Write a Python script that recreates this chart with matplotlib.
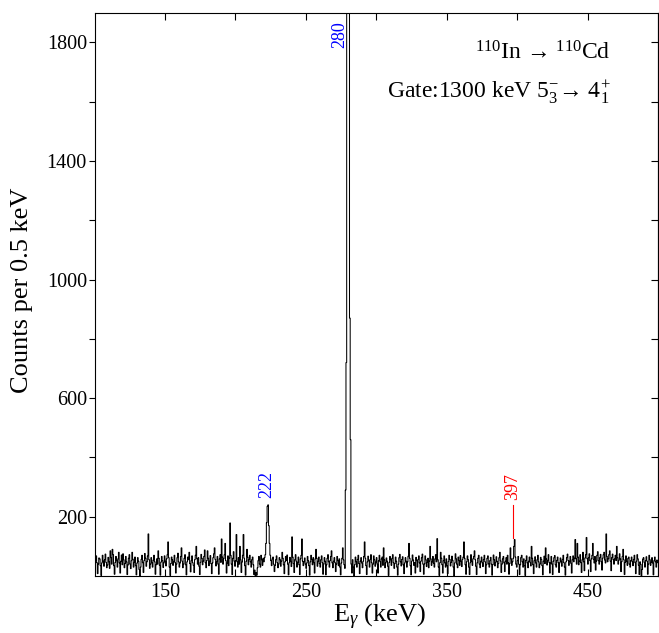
import numpy as np
import matplotlib
matplotlib.use('Agg')
import matplotlib.pyplot as plt
from matplotlib.ticker import FixedLocator

plt.rcParams['font.family'] = ['Liberation Serif', 'DejaVu Serif']
plt.rcParams['mathtext.fontset'] = 'custom'
plt.rcParams['mathtext.rm'] = 'Liberation Serif'
plt.rcParams['mathtext.it'] = 'Liberation Serif:italic'
plt.rcParams['mathtext.bf'] = 'Liberation Serif:bold'

# gated spectrum, 0.5 keV bins from 100 to 500 keV (one row = 10 keV)
e_start = 100.0
bin_width = 0.5
counts = [
    [30, 52, 68, 45, 8, 40, 61, 58, 35, 2, 44, 70, 50, 33, 55, 74, 46, 28, 37, 63],
    [48, 26, 85, 62, 40, 90, 72, 35, 6, 46, 66, 52, 30, 58, 80, 44, 10, 50, 71, 38],
    [75, 55, 28, 42, 66, 48, 5, 37, 60, 72, 40, 25, 52, 80, 57, 30, 46, 64, 35, 4],
    [44, 62, 50, 22, 0, 30, 56, 70, 45, 12, 52, 76, 60, 33, 48, 68, 142, 55, 26, 40],
    [62, 45, 30, 54, 70, 48, 6, 38, 58, 40, 85, 60, 36, 3, 47, 66, 52, 29, 44, 68],
    [50, 34, 58, 72, 115, 62, 30, 2, 42, 64, 55, 36, 49, 70, 45, 10, 40, 62, 77, 48],
    [30, 44, 66, 95, 50, 28, 40, 60, 72, 38, 4, 48, 64, 55, 80, 42, 14, 52, 68, 45],
    [36, 12, 55, 70, 100, 58, 40, 62, 33, 5, 46, 73, 60, 38, 50, 66, 88, 45, 28, 52],
    [85, 60, 35, 50, 69, 42, 8, 44, 62, 75, 95, 56, 34, 48, 66, 40, 6, 58, 72, 46],
    [125, 64, 40, 58, 72, 110, 52, 10, 44, 68, 35, 60, 179, 70, 40, 5, 60, 82, 50, 33],
    [52, 140, 48, 30, 62, 40, 100, 55, 12, 47, 70, 140, 60, 35, 3, 50, 90, 64, 38, 56],
    [70, 48, 30, 55, 64, 38, 5, 20, 0, 12, 3, 28, 52, 66, 40, 30, 70, 55, 36, 60],
    [48, 62, 72, 110, 180, 235, 240, 170, 110, 70, 52, 35, 58, 64, 40, 15, 36, 55, 68, 45],
    [28, 40, 62, 55, 33, 50, 80, 60, 38, 8, 48, 66, 52, 71, 40, 4, 45, 63, 50, 32],
    [132, 64, 42, 12, 55, 72, 50, 30, 46, 64, 38, 5, 58, 70, 125, 50, 35, 48, 61, 40],
    [26, 44, 66, 52, 35, 3, 48, 70, 56, 38, 62, 45, 10, 58, 90, 60, 33, 50, 64, 42],
    [30, 55, 68, 45, 6, 40, 62, 50, 4, 38, 60, 72, 48, 30, 52, 66, 85, 44, 28, 50],
    [62, 45, 15, 40, 66, 52, 35, 58, 30, 4, 44, 60, 95, 55, 38, 26, 290, 720, 2600, 5400],
    [5700, 3100, 870, 460, 40, 10, 55, 30, 0, 38, 64, 48, 30, 56, 70, 42, 8, 50, 62, 44],
    [28, 50, 66, 115, 60, 35, 5, 48, 67, 52, 30, 56, 72, 45, 10, 40, 68, 55, 33, 47],
    [62, 40, 10, 52, 70, 48, 30, 58, 64, 36, 95, 55, 28, 44, 61, 50, 33, 2, 46, 66],
    [55, 36, 60, 72, 45, 26, 42, 64, 50, 30, 3, 40, 62, 73, 48, 34, 56, 65, 38, 8],
    [44, 62, 50, 30, 48, 67, 110, 60, 35, 4, 50, 71, 54, 36, 45, 10, 63, 52, 30, 56],
    [68, 44, 15, 50, 62, 74, 40, 6, 41, 68, 55, 32, 46, 60, 28, 50, 100, 58, 36, 48],
    [66, 43, 30, 58, 72, 48, 126, 55, 30, 2, 45, 80, 60, 38, 10, 52, 68, 44, 30, 58],
    [35, 8, 49, 70, 56, 34, 46, 67, 53, 30, 0, 44, 75, 58, 40, 28, 64, 52, 36, 69],
    [50, 32, 56, 64, 115, 60, 38, 6, 48, 68, 55, 30, 5, 45, 72, 50, 36, 58, 66, 85],
    [55, 33, 5, 45, 60, 70, 40, 28, 50, 64, 44, 32, 56, 70, 48, 8, 38, 60, 68, 41],
    [30, 52, 63, 40, 3, 38, 71, 55, 34, 46, 65, 50, 28, 42, 62, 80, 51, 12, 40, 58],
    [66, 44, 15, 50, 62, 40, 70, 45, 6, 42, 95, 58, 36, 48, 60, 100, 123, 64, 40, 30],
    [52, 66, 40, 5, 38, 62, 70, 48, 30, 58, 35, 2, 53, 68, 44, 28, 50, 64, 46, 34],
    [100, 60, 38, 8, 52, 65, 44, 30, 55, 70, 48, 28, 40, 63, 56, 35, 4, 50, 67, 42],
    [95, 58, 37, 52, 72, 46, 10, 44, 66, 40, 5, 50, 62, 69, 38, 30, 53, 64, 45, 12],
    [44, 61, 50, 33, 56, 70, 45, 30, 3, 48, 62, 74, 52, 36, 50, 66, 43, 10, 55, 68],
    [48, 60, 123, 58, 40, 110, 64, 38, 50, 72, 45, 12, 55, 80, 48, 18, 61, 72, 130, 58],
    [40, 62, 75, 52, 15, 58, 70, 110, 56, 44, 66, 20, 50, 70, 82, 52, 40, 62, 73, 48],
    [20, 60, 72, 80, 54, 44, 142, 66, 48, 58, 72, 85, 50, 18, 62, 74, 55, 40, 58, 70],
    [52, 100, 62, 40, 53, 75, 58, 15, 48, 66, 90, 55, 5, 46, 68, 50, 36, 59, 64, 40],
    [30, 52, 64, 48, 35, 56, 70, 45, 8, 50, 72, 58, 36, 5, 48, 40, 0, 22, 57, 62],
    [46, 30, 52, 65, 50, 6, 40, 70, 55, 36, 47, 62, 44, 4, 52, 64, 48, 30, 54, 45],
]

y = np.array(counts, dtype=float).ravel()
edges = e_start + bin_width * np.arange(len(y) + 1)

fig = plt.figure(figsize=(6.59, 6.33), dpi=100)
ax = fig.add_axes([0.1434, 0.090, 0.8551, 0.890])

ax.stairs(y, edges, baseline=None, color='black', lw=0.75)

ax.set_xlim(100, 500)
ax.set_ylim(0, 1900)

# ticks: x inside (top+bottom), y outside on the left, inside on the right
ax.xaxis.set_major_locator(FixedLocator([150, 250, 350, 450]))
ax.xaxis.set_minor_locator(FixedLocator([200, 300, 400]))
ax.yaxis.set_major_locator(FixedLocator([200, 600, 1000, 1400, 1800]))
ax.yaxis.set_minor_locator(FixedLocator([400, 800, 1200, 1600]))
ax.tick_params(axis='x', which='both', direction='in', top=True, length=5, width=0.8, labelsize=14.5, pad=5)
ax.tick_params(axis='y', which='both', direction='out', length=4, width=0.8, labelsize=14.5, pad=1.5)

sec = ax.secondary_yaxis('right')
sec.yaxis.set_major_locator(FixedLocator(np.arange(200, 1900, 200)))
sec.tick_params(axis='y', direction='in', length=5, width=0.8, labelright=False)

for s in ax.spines.values():
    s.set_linewidth(0.8)
sec.spines['right'].set_linewidth(0.8)

ax.set_xlabel(r'E$_{\gamma}$ (keV)', fontsize=19)
ax.set_ylabel('Counts per 0.5 keV', fontsize=19)
ax.xaxis.set_label_coords(0.505, -0.046)
ax.yaxis.set_label_coords(-0.11, 0.507)

# peak labels
ax.text(274, 1872, '280', color='blue', rotation=90, ha='center', va='top', fontsize=13)
ax.text(222.5, 262, '222', color='blue', rotation=90, ha='center', va='bottom', fontsize=13)
ax.plot([397, 397], [128, 240], color='red', lw=0.8)
ax.text(397, 256, '397', color='red', rotation=90, ha='center', va='bottom', fontsize=13)

ax.text(0.915, 0.928, r'$^{110}$In → $^{110}$Cd', transform=ax.transAxes,
        ha='right', va='center', fontsize=17)
ax.text(0.915, 0.859, r'Gate:1300 keV $5^{-}_{3}$→ $4^{+}_{1}$', transform=ax.transAxes,
        ha='right', va='center', fontsize=17)

fig.savefig('out.png', dpi=100)
